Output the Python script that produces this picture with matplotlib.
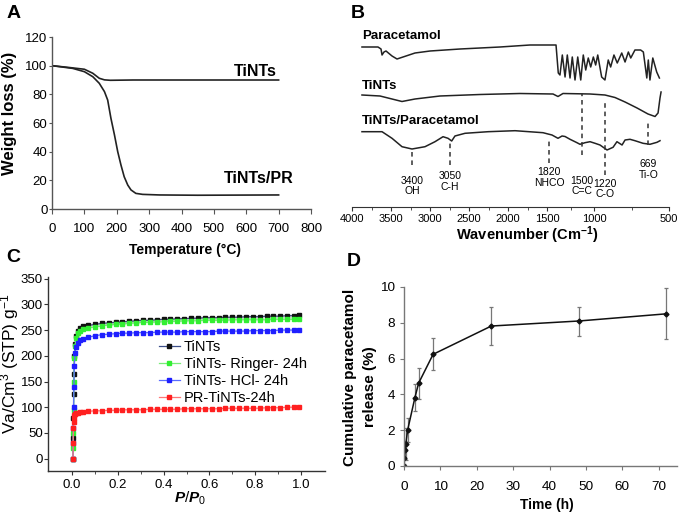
import numpy as np
import matplotlib
matplotlib.use('Agg')
import matplotlib.pyplot as plt
from matplotlib.ticker import FixedLocator

plt.rcParams['font.family'] = ['Liberation Sans', 'DejaVu Sans']
plt.rcParams['mathtext.fontset'] = 'custom'
plt.rcParams['mathtext.rm'] = 'Liberation Sans'
plt.rcParams['mathtext.it'] = 'Liberation Sans:italic:bold'
plt.rcParams['mathtext.bf'] = 'Liberation Sans:bold'

# ---- A: TGA ----
temp_tints = [0, 50, 100, 126, 146, 162, 180, 250, 400, 550, 700]
wt_tints = [100, 98.8, 97.5, 94.7, 91.2, 90.1, 89.8, 90.0, 90.0, 90.0, 90.0]
temp_pr = [0, 64, 100, 126, 146, 162, 172, 182, 193, 203, 213, 223, 234, 244,
           259, 280, 332, 450, 700]
wt_pr = [100, 98.1, 95.8, 92.3, 87.7, 81.9, 76, 63.3, 51.6, 40, 30.7, 22.5,
         16.7, 13.3, 10.9, 10.2, 9.8, 9.6, 9.8]

# ---- B: FTIR (offset transmittance, arbitrary units) ----
para_wn = [3872, 3667, 3628, 3615, 3590, 3564, 3487, 3423, 3346, 3192, 2999, 2615,
           2103, 1718, 1404, 1380, 1362, 1337, 1308, 1284, 1255, 1231, 1202, 1173,
           1141, 1114, 1088, 1061, 1035, 1007, 989, 975, 949, 927, 905, 889, 867,
           845, 815, 793, 771, 755, 727, 689, 671, 648, 638, 627, 608, 582, 564]
para_t = [160, 160, 158, 152, 155, 156, 151, 148, 150, 154, 156, 158,
          160, 162, 162, 134, 132, 152, 130, 152, 129, 150, 127, 150,
          127, 152, 137, 149, 140, 150, 142, 152, 130, 127, 147, 140, 152,
          144, 154, 145, 155, 149, 157, 157, 155, 129, 147, 127, 149, 135, 129]
tints_wn = [3872, 3641, 3513, 3359, 3192, 2872, 2359, 1846, 1436, 1383, 1330, 1042,
            927, 860, 793, 713, 640, 593, 573, 560, 553]
tints_t = [112, 111, 108.5, 105.5, 108, 111, 112.5, 113.5, 113, 110.5, 113.5, 113,
           112, 109.5, 105, 99, 93, 90.5, 94, 109, 115]
comp_wn = [3872, 3615, 3487, 3359, 3231, 3064, 2936, 2833, 2769, 2722, 2680, 2551,
           2256, 1910, 1551, 1489, 1447, 1383, 1340, 1308, 1255, 1181, 1149, 1096,
           1042, 993, 960, 913, 873, 847, 813, 793, 760, 727, 673, 627, 580, 560]
comp_t = [75.3, 75.3, 68.7, 60.3, 58, 60.3, 65.3, 70.3, 68.7, 66, 71, 73.7,
          75.3, 76.3, 74.3, 73, 72, 68.7, 71, 70.5, 67.7, 64.3, 62.7, 64.3,
          65.3, 63.7, 62, 57, 59.7, 65.3, 62, 67, 67.7, 66.3, 63.7, 62.7, 64.7, 66.3]
peak_x = [3227, 2744, 1476, 1131, 927, 638]
peak_top = [57, 64, 69, 114, 107, 84]
peak_bottom = [42, 42, 44, 52, 32, 62]
peak_text = ['3400\nOH', '3050\nC-H', '1820\nNHCO', '1500\nC=C', '1220\nC-O', '669\nTi-O']
peak_text_y = [21, 25.5, 29.5, 21, 18, 37.5]
wn_ticks = [4000, 3500, 3000, 2500, 2000, 1500, 1000, 500]
wn_tick_pos = [352, 391, 430, 469, 508, 547, 594, 669]   # uneven axis of the original

# ---- C: N2 isotherms ----
p_rel = [0.004, 0.005, 0.006, 0.007, 0.008, 0.010, 0.013, 0.018, 0.025, 0.035, 0.05,
         0.07, 0.10, 0.13, 0.16, 0.19, 0.22, 0.25, 0.28, 0.31, 0.34, 0.37, 0.40,
         0.43, 0.46, 0.49, 0.52, 0.55, 0.58, 0.61, 0.64, 0.67, 0.70, 0.73, 0.76,
         0.79, 0.82, 0.85, 0.88, 0.91, 0.94, 0.97, 0.99]
v_tints = [0, 40, 80, 125, 165, 200, 222, 238, 248, 254, 257, 259, 261, 263, 264, 265,
           266, 267, 268, 269, 269, 270, 271, 271, 272, 272, 273, 273, 274, 274, 274,
           275, 275, 275, 276, 276, 276, 277, 277, 277, 278, 278, 280]
v_ringer = [0, 20, 50, 95, 150, 195, 220, 235, 244, 249, 252, 254, 256, 258, 260, 261,
            262, 263, 264, 265, 265, 266, 266, 267, 267, 268, 268, 268, 269, 269, 269,
            269, 270, 270, 270, 270, 270, 270, 271, 271, 271, 271, 272]
v_hcl = [0, 30, 60, 100, 140, 180, 205, 218, 225, 230, 233, 236, 239, 241, 242, 243,
         244, 244, 245, 245, 245, 246, 246, 246, 246, 247, 247, 247, 247, 247, 248,
         248, 248, 248, 248, 249, 249, 249, 249, 250, 250, 250, 251]
v_pr = [0, 30, 60, 72, 80, 85, 87, 88, 89, 90, 91, 92, 93, 93, 94, 94, 95, 95, 95, 95,
        96, 96, 96, 96, 96, 97, 97, 97, 97, 97, 97, 98, 98, 98, 98, 98, 98, 99, 99, 99,
        100, 100, 101]
iso_labels = ['TiNTs', 'TiNTs- Ringer- 24h', 'TiNTs- HCl- 24h', 'PR-TiNTs-24h']

# ---- D: release ----
time_h = [0, 0.1, 0.25, 0.5, 1, 3, 4, 8, 24, 48, 72]
release = [0, 0.43, 0.89, 1.23, 2.01, 3.82, 4.62, 6.24, 7.82, 8.1, 8.5]
release_err = [0, 0.3, 0.5, 0.9, 0.66, 0.75, 0.86, 0.9, 1.04, 0.81, 1.43]

W, H = 680, 513
fig = plt.figure(figsize=(6.8, 5.13), dpi=100)


def box(l, t, r, b):
    return [l / W, 1 - b / H, (r - l) / W, (b - t) / H]


def ftext(px, py, s, **kw):
    fig.text(px / W, 1 - py / H, s, ha='center', va='center', **kw)


def style_axes(ax, col):
    for s in ['top', 'right']:
        ax.spines[s].set_visible(False)
    for s in ['left', 'bottom']:
        ax.spines[s].set_color(col)
        ax.spines[s].set_linewidth(1.0)


# A
axA = fig.add_axes(box(52, 37, 311, 209))
axA.plot(temp_tints, wt_tints, color='#222222', lw=1.2)
axA.plot(temp_pr, wt_pr, color='#222222', lw=1.2)
axA.set_xlim(0, 800)
axA.set_ylim(0, 120)
axA.set_xticks(range(0, 801, 100))
axA.set_yticks(range(0, 121, 20))
style_axes(axA, '#555555')
axA.tick_params(axis='x', direction='out', length=3.4, pad=6.5, labelsize=9.5, color='#555555')
axA.tick_params(axis='y', direction='out', length=2.2, pad=1, labelsize=9.5, color='#555555')
axA.text(627, 96, 'TiNTs', fontsize=11.5, fontweight='bold', ha='center', va='center')
axA.text(638, 21.4, 'TiNTs/PR', fontsize=11.5, fontweight='bold', ha='center', va='center')
ftext(10, 113, 'Weight loss (%)', fontsize=12, fontweight='bold', rotation=90)
ftext(185, 250, 'Temperature (°C)', fontsize=10, fontweight='bold')

# B  (scale increasing in wavenumber, axis then inverted by the limits)
axB = fig.add_axes(box(352, 20, 669, 207))
fwd = lambda w: -np.interp(w, wn_ticks[::-1], wn_tick_pos[::-1])
inv = lambda q: np.interp(-np.asarray(q), wn_tick_pos, wn_ticks)
axB.set_xscale('function', functions=(fwd, inv))
axB.plot(para_wn, para_t, color='#222222', lw=1.1)
axB.plot(tints_wn, tints_t, color='#222222', lw=1.1)
axB.plot(comp_wn, comp_t, color='#222222', lw=1.1)
axB.vlines(peak_x, peak_bottom, peak_top, colors='#333333', lw=1.1, linestyles=(0, (3, 2.5)))
for x, y, s in zip(peak_x, peak_text_y, peak_text):
    axB.text(x, y, s, fontsize=7.5, ha='center', va='center', linespacing=1.05)
axB.text(3872, 171, 'Paracetamol', fontsize=9.5, fontweight='bold', ha='left', va='center')
axB.text(3872, 121, 'TiNTs', fontsize=9.5, fontweight='bold', ha='left', va='center')
axB.text(3872, 86, 'TiNTs/Paracetamol', fontsize=9.5, fontweight='bold', ha='left', va='center')
axB.set_xlim(4000, 500)
axB.set_ylim(0, 187)
for s in ['top', 'right', 'left']:
    axB.spines[s].set_visible(False)
axB.spines['bottom'].set_color('#333333')
axB.set_yticks([])
axB.xaxis.set_major_locator(FixedLocator(wn_ticks))
axB.set_xticklabels([str(v) for v in wn_ticks])
axB.xaxis.set_minor_locator(FixedLocator([3750, 3250, 2750, 2250, 1750, 1250, 750]))
axB.tick_params(axis='x', which='major', direction='out', length=3, pad=2, labelsize=8, color='#333333')
axB.tick_params(axis='x', which='minor', direction='out', length=2, color='#333333')
ftext(527, 235, 'Wavenumber (Cm$^{\\mathbf{-1}}$)', fontsize=10.5, fontweight='bold')

# C
axC = fig.add_axes(box(48, 276.6, 325, 471))
series = [(v_tints, '#111111', '#3d4f8a'), (v_ringer, '#33ee33', '#77ee77'),
          (v_hcl, '#1f1fff', '#5a6cff'), (v_pr, '#ff2020', '#ff7777')]
for (vals, mc, lc), lab in zip(series, iso_labels):
    axC.plot(p_rel, vals, color=lc, lw=0.9, marker='s', ms=3.4, mfc=mc, mec=mc, label=lab)
axC.set_xlim(-0.105, 1.105)
axC.set_ylim(-24, 354)
axC.set_xticks([0, 0.2, 0.4, 0.6, 0.8, 1.0])
axC.set_xticks([0.1, 0.3, 0.5, 0.7, 0.9], minor=True)
axC.set_yticks(range(0, 351, 50))
style_axes(axC, '#333333')
axC.tick_params(axis='x', which='major', direction='out', length=2.9, pad=2.6, labelsize=9.5, color='#333333')
axC.tick_params(axis='x', which='minor', direction='out', length=2, color='#333333')
axC.tick_params(axis='y', direction='out', length=2.9, pad=0.8, labelsize=9.5, color='#333333')
axC.legend(loc='upper left', bbox_to_anchor=(0.40, 0.675), frameon=False, fontsize=10.5,
           borderpad=0, borderaxespad=0, handlelength=1.45, handletextpad=0.25,
           labelspacing=0.22)
ftext(10, 363.5, 'Va/Cm$^3$ (STP) g$^{-1}$', fontsize=12.5, rotation=90)
ftext(190, 498, '$P/P_0$', fontsize=11)

# D
axD = fig.add_axes(box(404, 287, 676.9, 466))
axD.errorbar(time_h, release, yerr=release_err, fmt='none', ecolor='#777777',
             elinewidth=0.9, capsize=1.6, capthick=0.9)
axD.plot(time_h, release, color='#111111', lw=1.1, marker='D', ms=2.5)
axD.set_xlim(0, 75)
axD.set_ylim(0, 10)
axD.set_xticks(range(0, 71, 10))
axD.set_yticks(range(0, 11, 2))
style_axes(axD, '#777777')
axD.tick_params(axis='x', direction='out', length=2.9, pad=8, labelsize=9.7, color='#777777')
axD.tick_params(axis='y', direction='out', length=2.9, pad=3.5, labelsize=9.7, color='#777777')
ftext(350, 377, 'Cumulative paracetamol', fontsize=11, fontweight='bold', rotation=90)
ftext(370, 387, 'release (%)', fontsize=11, fontweight='bold', rotation=90)
ftext(547, 505, 'Time (h)', fontsize=10, fontweight='bold')

# panel letters
ftext(14, 14, 'A', fontsize=14, fontweight='bold')
ftext(358, 13.5, 'B', fontsize=14, fontweight='bold')
ftext(13, 258, 'C', fontsize=14, fontweight='bold')
ftext(354, 262, 'D', fontsize=14, fontweight='bold')

fig.savefig('out.png', dpi=100)
